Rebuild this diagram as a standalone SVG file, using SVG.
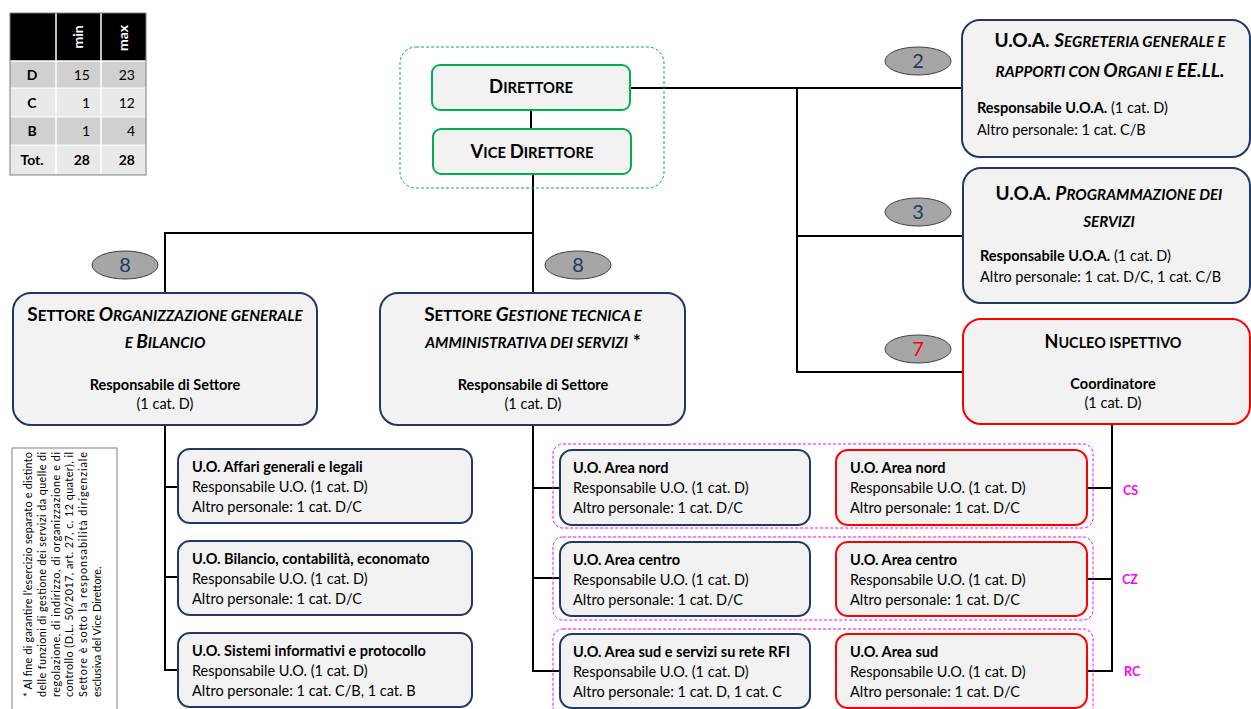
<svg xmlns="http://www.w3.org/2000/svg" width="1251" height="709" viewBox="0 0 1251 709">
<style>
text{font-family:Lato,"Liberation Sans",sans-serif;fill:#000}
.t{font-size:14.5px}
.b{font-weight:bold}
.i{font-style:italic}
.hd{font-weight:bold;text-anchor:middle}
.A{font-size:19px}
.a{font-size:15.2px}
.box{fill:#f2f2f2;stroke-width:2}
.blue{stroke:#1f3864}
.red{stroke:#ff0000}
.green{stroke:#00b050}
.conn line{stroke:#000;stroke-width:2}
.ell{fill:#a6a6a6;stroke:#404040;stroke-width:1}
.num{font-size:20px;fill:#1f3864;text-anchor:middle}
.grp{fill:none;stroke:#ff00ff;stroke-width:1;stroke-dasharray:3 2}
.lab{font-size:12.5px;font-weight:bold;fill:#ff00ff}
.tb{font-size:14px}
.fn{font-size:10.8px}
</style>

<g id="table">
<rect x="10" y="13" width="136" height="48" fill="#000"/>
<rect x="10" y="61" width="136" height="27" fill="#d0d0d0"/>
<rect x="10" y="88" width="136" height="29" fill="#e9e9e9"/>
<rect x="10" y="117" width="136" height="28" fill="#d0d0d0"/>
<rect x="10" y="145" width="136" height="30" fill="#e9e9e9"/>
<line x1="56" y1="13" x2="56" y2="175" stroke="#fff" stroke-width="1.5"/>
<line x1="101" y1="13" x2="101" y2="175" stroke="#fff" stroke-width="1.5"/>
<line x1="10" y1="61" x2="146" y2="61" stroke="#fff" stroke-width="1.5"/>
<line x1="10" y1="88" x2="146" y2="88" stroke="#fff" stroke-width="1"/>
<line x1="10" y1="117" x2="146" y2="117" stroke="#fff" stroke-width="1"/>
<line x1="10" y1="145" x2="146" y2="145" stroke="#fff" stroke-width="1"/>
<rect x="10" y="13" width="136" height="162" fill="none" stroke="#7f7f7f" stroke-width="1"/>
<text class="tb b" transform="translate(83,37) rotate(-90)" text-anchor="middle" style="fill:#fff">min</text>
<text class="tb b" transform="translate(128,38) rotate(-90)" text-anchor="middle" style="fill:#fff">max</text>
<text class="tb b" x="32" y="80" text-anchor="middle">D</text>
<text class="tb" x="90" y="80" text-anchor="end">15</text>
<text class="tb" x="135" y="80" text-anchor="end">23</text>
<text class="tb b" x="32" y="108" text-anchor="middle">C</text>
<text class="tb" x="90" y="108" text-anchor="end">1</text>
<text class="tb" x="135" y="108" text-anchor="end">12</text>
<text class="tb b" x="32" y="136" text-anchor="middle">B</text>
<text class="tb" x="90" y="136" text-anchor="end">1</text>
<text class="tb" x="135" y="136" text-anchor="end">4</text>
<text class="tb b" x="32" y="165" text-anchor="middle">Tot.</text>
<text class="tb b" x="90" y="165" text-anchor="end">28</text>
<text class="tb b" x="135" y="165" text-anchor="end">28</text>
</g>

<g class="conn" id="connectors">
<line x1="531" y1="110" x2="531" y2="129"/>
<line x1="533" y1="174" x2="533" y2="293"/>
<line x1="164" y1="233" x2="534" y2="233"/>
<line x1="165" y1="232" x2="165" y2="293"/>
<line x1="630" y1="88" x2="962" y2="88"/>
<line x1="797" y1="87" x2="797" y2="373"/>
<line x1="796" y1="236" x2="963" y2="236"/>
<line x1="796" y1="372" x2="963" y2="372"/>
<line x1="165" y1="425" x2="165" y2="671"/>
<line x1="164" y1="487" x2="178" y2="487"/>
<line x1="164" y1="577" x2="178" y2="577"/>
<line x1="164" y1="670" x2="178" y2="670"/>
<line x1="533" y1="425" x2="533" y2="672"/>
<line x1="532" y1="488" x2="560" y2="488"/>
<line x1="532" y1="578" x2="560" y2="578"/>
<line x1="532" y1="671" x2="560" y2="671"/>
<line x1="1112" y1="424" x2="1112" y2="672"/>
<line x1="1087" y1="488" x2="1113" y2="488"/>
<line x1="1087" y1="579" x2="1113" y2="579"/>
<line x1="1087" y1="671" x2="1113" y2="671"/>
</g>

<g id="vertice">
<rect x="400" y="47" width="264" height="141" rx="16" fill="none" stroke="#00b050" stroke-width="1" stroke-dasharray="3 2"/>
</g>
<g id="direttore">
<rect class="box green" x="432" y="65" width="198" height="45" rx="8"/>
<text class="hd" x="531" y="93"><tspan font-size="18.5">D</tspan><tspan font-size="14.8">IRETTORE</tspan></text>
</g>
<g id="vice-direttore">
<rect class="box green" x="433" y="129" width="198" height="45" rx="8"/>
<text class="hd" x="532" y="158"><tspan font-size="18.5">V</tspan><tspan font-size="14.8">ICE </tspan><tspan font-size="18.5">D</tspan><tspan font-size="14.8">IRETTORE</tspan></text>
</g>

<g id="uoa-segreteria">
<ellipse class="ell" cx="918" cy="61" rx="33" ry="14"/>
<text class="num" x="918" y="68">2</text>
<rect class="box blue" x="962" y="20" width="288" height="137" rx="18"/>
<text class="hd" x="1110" y="47"><tspan class="A">U.O.A. </tspan><tspan class="A i">S</tspan><tspan class="a i">EGRETERIA GENERALE E</tspan></text>
<text class="hd i" x="1110" y="77"><tspan class="a">RAPPORTI CON </tspan><tspan class="A">O</tspan><tspan class="a">RGANI E </tspan><tspan class="A">EE.LL.</tspan></text>
<text class="t" x="977" y="113"><tspan class="b">Responsabile U.O.A.</tspan> (1 cat. D)</text>
<text class="t" x="977" y="135">Altro personale: 1 cat. C/B</text>
</g>

<g id="uoa-programmazione">
<ellipse class="ell" cx="918" cy="212" rx="33" ry="14"/>
<text class="num" x="918" y="219">3</text>
<rect class="box blue" x="963" y="168" width="287" height="135" rx="18"/>
<text class="hd" x="1109" y="200"><tspan class="A">U.O.A. </tspan><tspan class="A i">P</tspan><tspan class="a i">ROGRAMMAZIONE DEI</tspan></text>
<text class="hd i" x="1109" y="227"><tspan class="a">SERVIZI</tspan></text>
<text class="t" x="980" y="261"><tspan class="b">Responsabile U.O.A.</tspan> (1 cat. D)</text>
<text class="t" x="980" y="282">Altro personale: 1 cat. D/C, 1 cat. C/B</text>
</g>

<g id="nucleo-ispettivo">
<ellipse class="ell" cx="918" cy="349" rx="33" ry="14"/>
<text class="num" x="918" y="356" style="fill:#ff0000">7</text>
<rect class="box red" x="963" y="319" width="287" height="105" rx="18"/>
<text class="hd" x="1113" y="348"><tspan font-size="18">N</tspan><tspan font-size="14.4">UCLEO ISPETTIVO</tspan></text>
<text class="t b" x="1113" y="389" text-anchor="middle">Coordinatore</text>
<text class="t" x="1113" y="408" text-anchor="middle">(1 cat. D)</text>
</g>

<g id="settore-organizzazione">
<ellipse class="ell" cx="125" cy="265" rx="33" ry="14"/>
<text class="num" x="125" y="272">8</text>
<rect class="box blue" x="13" y="293" width="304" height="132" rx="18"/>
<text class="hd" x="165" y="321"><tspan class="A">S</tspan><tspan class="a">ETTORE </tspan><tspan class="A i">O</tspan><tspan class="a i">RGANIZZAZIONE GENERALE</tspan></text>
<text class="hd i" x="165" y="348"><tspan class="a">E </tspan><tspan class="A">B</tspan><tspan class="a">ILANCIO</tspan></text>
<text class="t b" x="165" y="390" text-anchor="middle">Responsabile di Settore</text>
<text class="t" x="165" y="409" text-anchor="middle">(1 cat. D)</text>
</g>

<g id="settore-gestione">
<ellipse class="ell" cx="578" cy="265" rx="33" ry="14"/>
<text class="num" x="578" y="272">8</text>
<rect class="box blue" x="380" y="293" width="305" height="132" rx="18"/>
<text class="hd" x="533" y="321"><tspan class="A">S</tspan><tspan class="a">ETTORE </tspan><tspan class="A i">G</tspan><tspan class="a i">ESTIONE TECNICA E</tspan></text>
<text class="hd" x="533" y="348"><tspan class="a i">AMMINISTRATIVA DEI SERVIZI</tspan><tspan class="A"> *</tspan></text>
<text class="t b" x="533" y="390" text-anchor="middle">Responsabile di Settore</text>
<text class="t" x="533" y="409" text-anchor="middle">(1 cat. D)</text>
</g>

<g id="footnote">
<rect x="12" y="448" width="105" height="265" fill="#fff" stroke="#7f7f7f" stroke-width="1"/>
<text class="fn" transform="translate(32,697) rotate(-90)" textLength="245" lengthAdjust="spacing">* Al fine di garantire l’esercizio separato e distinto</text>
<text class="fn" transform="translate(45.8,697) rotate(-90)" textLength="245" lengthAdjust="spacing">delle funzioni di gestione dei servizi da quelle di</text>
<text class="fn" transform="translate(59.6,697) rotate(-90)" textLength="245" lengthAdjust="spacing">regolazione, di indirizzo, di organizzazione e di</text>
<text class="fn" transform="translate(73.4,697) rotate(-90)" textLength="245" lengthAdjust="spacing">controllo (D.L. 50/2017, art. 27, c. 12 quater), il</text>
<text class="fn" transform="translate(87.2,697) rotate(-90)" textLength="245" lengthAdjust="spacing">Settore è sotto la responsabilità dirigenziale</text>
<text class="fn" transform="translate(101,697) rotate(-90)">esclusiva del Vice Direttore.</text>
</g>

<g id="uo-affari">
<rect class="box blue" x="178" y="449" width="294" height="74" rx="12"/>
<text class="t b" x="192" y="472">U.O. Affari generali e legali</text>
<text class="t" x="192" y="492">Responsabile U.O. (1 cat. D)</text>
<text class="t" x="192" y="512">Altro personale: 1 cat. D/C</text>
</g>
<g id="uo-bilancio">
<rect class="box blue" x="178" y="541" width="294" height="74" rx="12"/>
<text class="t b" x="192" y="564">U.O. Bilancio, contabilità, economato</text>
<text class="t" x="192" y="584">Responsabile U.O. (1 cat. D)</text>
<text class="t" x="192" y="604">Altro personale: 1 cat. D/C</text>
</g>
<g id="uo-sistemi">
<rect class="box blue" x="178" y="633" width="294" height="74" rx="12"/>
<text class="t b" x="192" y="656">U.O. Sistemi informativi e protocollo</text>
<text class="t" x="192" y="676">Responsabile U.O. (1 cat. D)</text>
<text class="t" x="192" y="696">Altro personale: 1 cat. C/B, 1 cat. B</text>
</g>

<g id="gruppi">
<rect class="grp" x="553" y="444" width="540" height="84" rx="10"/>
<rect class="grp" x="553" y="537" width="540" height="83" rx="10"/>
<rect class="grp" x="553" y="629" width="540" height="90" rx="10"/>
<text class="lab" x="1123" y="495">CS</text>
<text class="lab" x="1122" y="584">CZ</text>
<text class="lab" x="1124" y="676">RC</text>
</g>

<g id="uo-area-nord">
<rect class="box blue" x="560" y="450" width="250" height="75" rx="12"/>
<text class="t b" x="573" y="473">U.O. Area nord</text>
<text class="t" x="573" y="493">Responsabile U.O. (1 cat. D)</text>
<text class="t" x="573" y="513">Altro personale: 1 cat. D/C</text>
</g>
<g id="uo-area-centro">
<rect class="box blue" x="560" y="542" width="250" height="74" rx="12"/>
<text class="t b" x="573" y="565">U.O. Area centro</text>
<text class="t" x="573" y="585">Responsabile U.O. (1 cat. D)</text>
<text class="t" x="573" y="605">Altro personale: 1 cat. D/C</text>
</g>
<g id="uo-area-sud-rfi">
<rect class="box blue" x="560" y="634" width="250" height="74" rx="12"/>
<text class="t b" x="573" y="657">U.O. Area sud e servizi su rete RFI</text>
<text class="t" x="573" y="677">Responsabile U.O. (1 cat. D)</text>
<text class="t" x="573" y="697">Altro personale: 1 cat. D, 1 cat. C</text>
</g>

<g id="ni-area-nord">
<rect class="box red" x="836" y="450" width="251" height="75" rx="12"/>
<text class="t b" x="850" y="473">U.O. Area nord</text>
<text class="t" x="850" y="493">Responsabile U.O. (1 cat. D)</text>
<text class="t" x="850" y="513">Altro personale: 1 cat. D/C</text>
</g>
<g id="ni-area-centro">
<rect class="box red" x="836" y="542" width="251" height="74" rx="12"/>
<text class="t b" x="850" y="565">U.O. Area centro</text>
<text class="t" x="850" y="585">Responsabile U.O. (1 cat. D)</text>
<text class="t" x="850" y="605">Altro personale: 1 cat. D/C</text>
</g>
<g id="ni-area-sud">
<rect class="box red" x="836" y="634" width="251" height="74" rx="12"/>
<text class="t b" x="850" y="657">U.O. Area sud</text>
<text class="t" x="850" y="677">Responsabile U.O. (1 cat. D)</text>
<text class="t" x="850" y="697">Altro personale: 1 cat. D/C</text>
</g>
</svg>
